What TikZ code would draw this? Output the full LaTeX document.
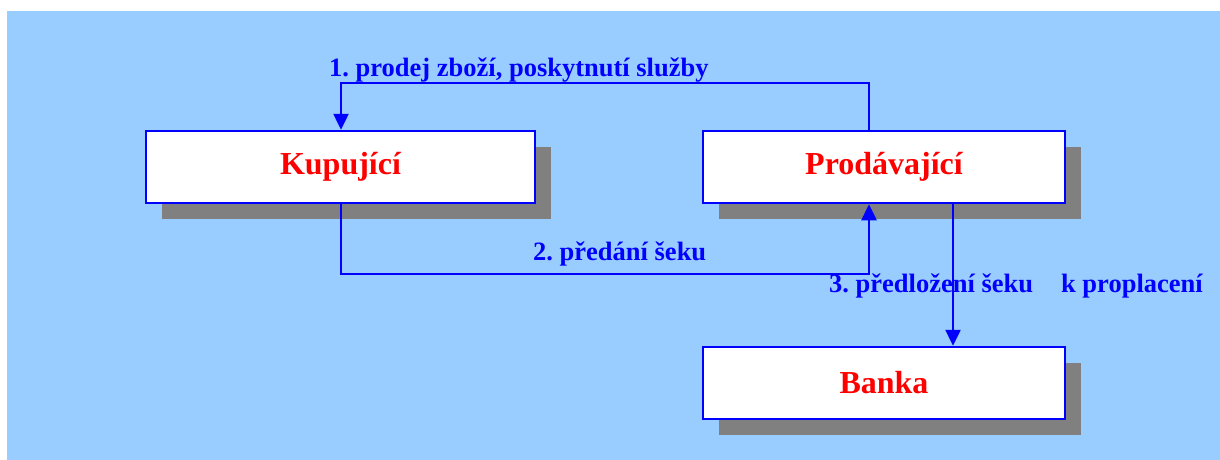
\documentclass[tikz,border=0pt]{standalone}
\usepackage{fontspec}
\setmainfont{Liberation Serif}
\usetikzlibrary{arrows.meta,shadows}
\definecolor{bgblue}{HTML}{99CCFF}
\definecolor{shadowgray}{HTML}{808080}
\frenchspacing
\tikzset{
  box/.style={draw=blue, line width=2.5pt, fill=white, minimum height=72pt, inner sep=0pt,
    font=\bfseries\fontsize{32}{36}\selectfont, text=red,
    drop shadow={shadow xshift=16pt, shadow yshift=-16pt, opacity=1, fill=shadowgray}},
  arr/.style={draw=blue, line width=2.5pt, -{Triangle[length=16pt,width=15pt]}},
  lbl/.style={text=blue, font=\bfseries\fontsize{26.5}{30}\selectfont, inner sep=0pt, anchor=base west}
}
\begin{document}
\begin{tikzpicture}[x=1pt,y=-1pt]
\useasboundingbox (0,0) rectangle (1220,460);
\fill[bgblue] (7,11) rectangle (1220,460);
\node[box, minimum width=389pt] (kup) at (340.5,167) {Kupující};
\node[box, minimum width=362pt] (prod) at (884,167) {Prodávající};
\node[box, minimum width=362pt] (bank) at (884,383) {Banka};
\coordinate (c1) at (869,83);
\coordinate (c2) at (341,83);
\coordinate (d1) at (341,274);
\coordinate (d2) at (869,274);
\coordinate (e1) at (953,300);
\draw[arr] (c1 |- prod.north) -- (c1) -- (c2) -- (c2 |- kup.north);
\draw[arr] (d1 |- kup.south) -- (d1) -- (d2) -- (d2 |- prod.south);
\draw[arr] (e1 |- prod.south) -- (e1 |- bank.north);
\node[lbl] (l1) at (329,77) {1. prodej zboží, poskytnutí služby};
\node[lbl] (l2) at (533,260) {2. předání šeku};
\node[lbl] (l3) at (829,292) {3. předložení šeku\hspace{28pt}k proplacení};
\end{tikzpicture}
\end{document}
